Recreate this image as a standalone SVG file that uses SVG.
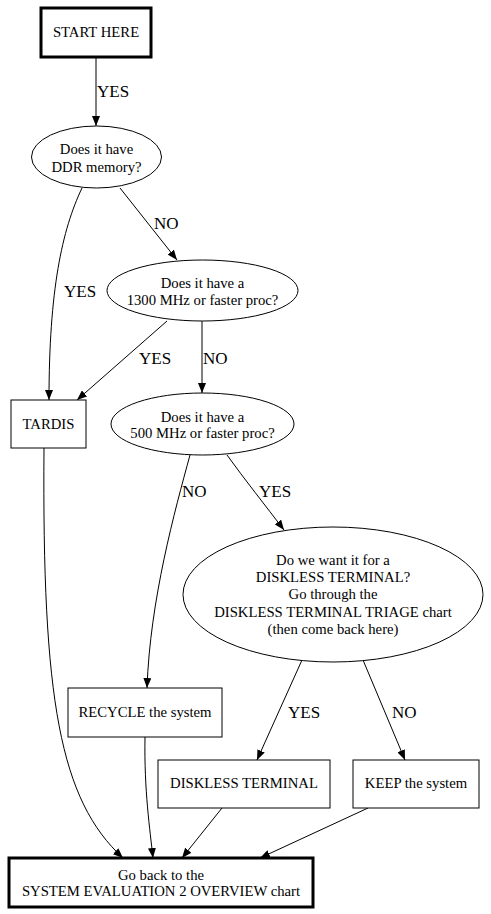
<svg xmlns="http://www.w3.org/2000/svg" width="491" height="914" viewBox="0 0 491 914">
<style>
.n{fill:#fff;stroke:#000;stroke-width:1}
.b{fill:#fff;stroke:#000;stroke-width:3}
text{font-family:'Liberation Serif','DejaVu Serif','Times New Roman',Times,serif;fill:#000}
.t{font-size:14.7px;text-anchor:middle}
.l{font-size:17px}
.e{fill:none;stroke:#000;stroke-width:1;marker-end:url(#ah)}
</style>
<defs>
<marker id="ah" markerUnits="userSpaceOnUse" markerWidth="10" markerHeight="8" viewBox="0 0 10 8" refX="10" refY="4" orient="auto">
<path d="M0,0 L10,4 L0,8 z" fill="#000"/>
</marker>
</defs>
<rect width="491" height="914" fill="#fff"/>
<g id="connectors">
<path class="e" d="M96,57 L96,126"/>
<text class="l" x="97" y="97">YES</text>
<path class="e" d="M82,188 C62,230 49,290 49,400"/>
<text class="l" x="64" y="297">YES</text>
<path class="e" d="M120,188 L177,260"/>
<text class="l" x="154" y="229">NO</text>
<path class="e" d="M167,321 L77,400"/>
<text class="l" x="139" y="364">YES</text>
<path class="e" d="M202,321 L202,393"/>
<text class="l" x="203" y="364">NO</text>
<path class="e" d="M190,455 C175,510 150,600 147,688"/>
<text class="l" x="182" y="497">NO</text>
<path class="e" d="M227,455 C245,480 265,505 284,530"/>
<text class="l" x="259" y="497">YES</text>
<path class="e" d="M302,660 L257,760"/>
<text class="l" x="288" y="718">YES</text>
<path class="e" d="M363,660 L405,760"/>
<text class="l" x="392" y="718">NO</text>
<path class="e" d="M44,448 C42,700 60,800 123,858"/>
<path class="e" d="M145,737 C144,790 150,830 153,858"/>
<path class="e" d="M222,808 L182,858"/>
<path class="e" d="M368,808 L260,858"/>
</g>
<g id="start">
<rect class="b" x="41" y="8" width="110" height="49"/>
<text class="t" x="96" y="37">START HERE</text>
</g>
<g id="ddr">
<ellipse class="n" cx="96.5" cy="157" rx="65" ry="31"/>
<text class="t" x="96.5" y="154">Does it have</text>
<text class="t" x="96.5" y="172">DDR memory?</text>
</g>
<g id="mhz1300">
<ellipse class="n" cx="202.5" cy="290.5" rx="95.5" ry="30.5"/>
<text class="t" x="202.5" y="288">Does it have a</text>
<text class="t" x="202.5" y="305">1300 MHz or faster proc?</text>
</g>
<g id="tardis">
<rect class="n" x="11" y="400" width="75" height="48"/>
<text class="t" x="48.5" y="429">TARDIS</text>
</g>
<g id="mhz500">
<ellipse class="n" cx="202.5" cy="424" rx="91.5" ry="31"/>
<text class="t" x="202.5" y="422">Does it have a</text>
<text class="t" x="202.5" y="438">500 MHz or faster proc?</text>
</g>
<g id="diskless_q">
<ellipse class="n" cx="333" cy="594.5" rx="150" ry="67.5"/>
<text class="t" x="333" y="565">Do we want it for a</text>
<text class="t" x="333" y="582">DISKLESS TERMINAL?</text>
<text class="t" x="333" y="599">Go through the</text>
<text class="t" x="333" y="617">DISKLESS TERMINAL TRIAGE chart</text>
<text class="t" x="333" y="634">(then come back here)</text>
</g>
<g id="recycle">
<rect class="n" x="68" y="688" width="154" height="49"/>
<text class="t" x="145" y="717">RECYCLE the system</text>
</g>
<g id="diskless">
<rect class="n" x="158" y="760" width="172" height="48"/>
<text class="t" x="244" y="788">DISKLESS TERMINAL</text>
</g>
<g id="keep">
<rect class="n" x="353" y="760" width="126" height="48"/>
<text class="t" x="416" y="788">KEEP the system</text>
</g>
<g id="overview">
<rect class="b" x="9" y="858" width="304" height="49"/>
<text class="t" x="161" y="880">Go back to the</text>
<text class="t" x="161" y="896">SYSTEM EVALUATION 2 OVERVIEW chart</text>
</g>
</svg>
